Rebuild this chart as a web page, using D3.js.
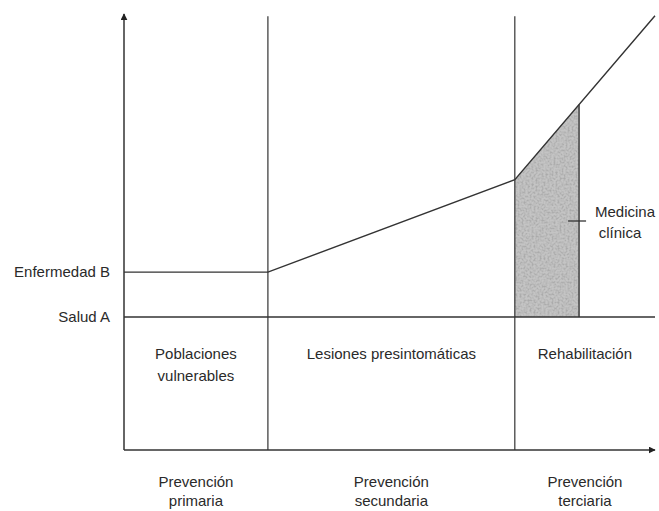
<html>
<head>
<meta charset="utf-8">
<script src="https://d3js.org/d3.v7.min.js"></script>
<style>
  body { margin: 0; background: #fff; }
  text { font-family: "Liberation Sans", Arial, sans-serif; font-size: 15px; fill: #2a2a2a; }
</style>
</head>
<body>
<svg width="659" height="511"></svg>
<script>
// horizontal: time / stage units, vertical: health level
var stageEdges = [0, 2.71, 7.36, 10];
var levelNames = ["Salud A", "Enfermedad B"];
var levelValues = [30.5, 40.8];
var curveX = [0, 2.71, 7.36, 10];
var curveY = [40.8, 40.8, 62, 99.6];
var shadeX = [7.36, 8.57];
var stageNames = [["Poblaciones", "vulnerables"], ["Lesiones presintomáticas"], ["Rehabilitación"]];
var preventNames = [["Prevención", "primaria"], ["Prevención", "secundaria"], ["Prevención", "terciaria"]];

var svg = d3.select("svg");
var ink = "#333";

var x = d3.scaleLinear().domain([0, 10]).range([124, 655]);
var y = d3.scaleLinear().domain([0, 100]).range([450, 14]);

var defs = svg.append("defs");
defs.append("marker").attr("id", "arr").attr("viewBox", "0 0 10 10")
  .attr("refX", 9).attr("refY", 5).attr("markerWidth", 7).attr("markerHeight", 7)
  .attr("markerUnits", "userSpaceOnUse").attr("orient", "auto")
  .append("path").attr("d", "M0,0L10,5L0,10Z").attr("fill", "#222");

var f = defs.append("filter").attr("id", "grain").attr("x", 0).attr("y", 0).attr("width", 1).attr("height", 1);
f.append("feTurbulence").attr("type", "fractalNoise").attr("baseFrequency", 0.5)
  .attr("numOctaves", 2).attr("seed", 4).attr("result", "n");
f.append("feColorMatrix").attr("in", "n").attr("type", "matrix")
  .attr("values", "0 0 0 0 0.4 0 0 0 0 0.4 0 0 0 0 0.4 0 0 0 2.6 -1.0").attr("result", "dots");
f.append("feComposite").attr("in", "dots").attr("in2", "SourceGraphic").attr("operator", "in").attr("result", "d2");
var fm = f.append("feMerge");
fm.append("feMergeNode").attr("in", "SourceGraphic");
fm.append("feMergeNode").attr("in", "d2");

// curve value at a given x
function curveAt(v) {
  for (var i = 1; i < curveX.length; i++) {
    if (v <= curveX[i]) {
      var t = (v - curveX[i - 1]) / (curveX[i] - curveX[i - 1]);
      return curveY[i - 1] + t * (curveY[i] - curveY[i - 1]);
    }
  }
  return curveY[curveY.length - 1];
}

// shaded area (medicina clinica)
var area = d3.area().x(function(d){ return x(d); })
  .y0(y(levelValues[0])).y1(function(d){ return y(curveAt(d)); });
svg.append("path").datum(shadeX).attr("d", area)
  .attr("fill", "#c4c4c4").attr("filter", "url(#grain)");
svg.append("line")
  .attr("x1", x(shadeX[1])).attr("x2", x(shadeX[1]))
  .attr("y1", y(curveAt(shadeX[1]))).attr("y2", y(levelValues[0]))
  .attr("stroke", ink).attr("stroke-width", 1.4);

// axes
svg.append("line").attr("x1", x(0)).attr("x2", x(0)).attr("y1", y(0)).attr("y2", y(100))
  .attr("stroke", ink).attr("stroke-width", 1.5).attr("marker-end", "url(#arr)");
svg.append("line").attr("x1", x(0)).attr("x2", x(10)).attr("y1", y(0)).attr("y2", y(0))
  .attr("stroke", ink).attr("stroke-width", 1.5).attr("marker-end", "url(#arr)");

// stage dividers
svg.selectAll(".div").data(stageEdges.slice(1, 3)).enter().append("line")
  .attr("x1", function(d){ return x(d); }).attr("x2", function(d){ return x(d); })
  .attr("y1", y(0)).attr("y2", y(99.5))
  .attr("stroke", ink).attr("stroke-width", 1.2);

// Salud A baseline
svg.append("line").attr("x1", x(0)).attr("x2", x(10))
  .attr("y1", y(levelValues[0])).attr("y2", y(levelValues[0]))
  .attr("stroke", ink).attr("stroke-width", 1.3);

// disease course
var line = d3.line().x(function(d, i){ return x(curveX[i]); }).y(function(d){ return y(d); });
svg.append("path").datum(curveY).attr("d", line)
  .attr("fill", "none").attr("stroke", ink).attr("stroke-width", 1.4);

// level labels
svg.selectAll(".lvl").data(levelNames).enter().append("text")
  .attr("x", 110).attr("y", function(d, i){ return y(levelValues[i]) + 5; })
  .attr("text-anchor", "end").text(function(d){ return d; });

// stage labels
stageNames.forEach(function(lines, i) {
  var cx = (x(stageEdges[i]) + x(stageEdges[i + 1])) / 2;
  lines.forEach(function(s, j) {
    svg.append("text").attr("x", cx).attr("y", 359 + j * 22)
      .attr("text-anchor", "middle").text(s);
  });
});

preventNames.forEach(function(lines, i) {
  var cx = (x(stageEdges[i]) + x(stageEdges[i + 1])) / 2;
  lines.forEach(function(s, j) {
    svg.append("text").attr("x", cx).attr("y", 487 + j * 19)
      .attr("text-anchor", "middle").text(s);
  });
});

// medicina clinica callout
var my = 221;
svg.append("line").attr("x1", x(shadeX[1]) - 11).attr("x2", x(shadeX[1]) + 7)
  .attr("y1", my).attr("y2", my).attr("stroke", ink).attr("stroke-width", 1.3);
svg.append("text").attr("x", 625).attr("y", 217).attr("text-anchor", "middle").text("Medicina");
svg.append("text").attr("x", 620).attr("y", 238).attr("text-anchor", "middle").text("clínica");
</script>
</body>
</html>
